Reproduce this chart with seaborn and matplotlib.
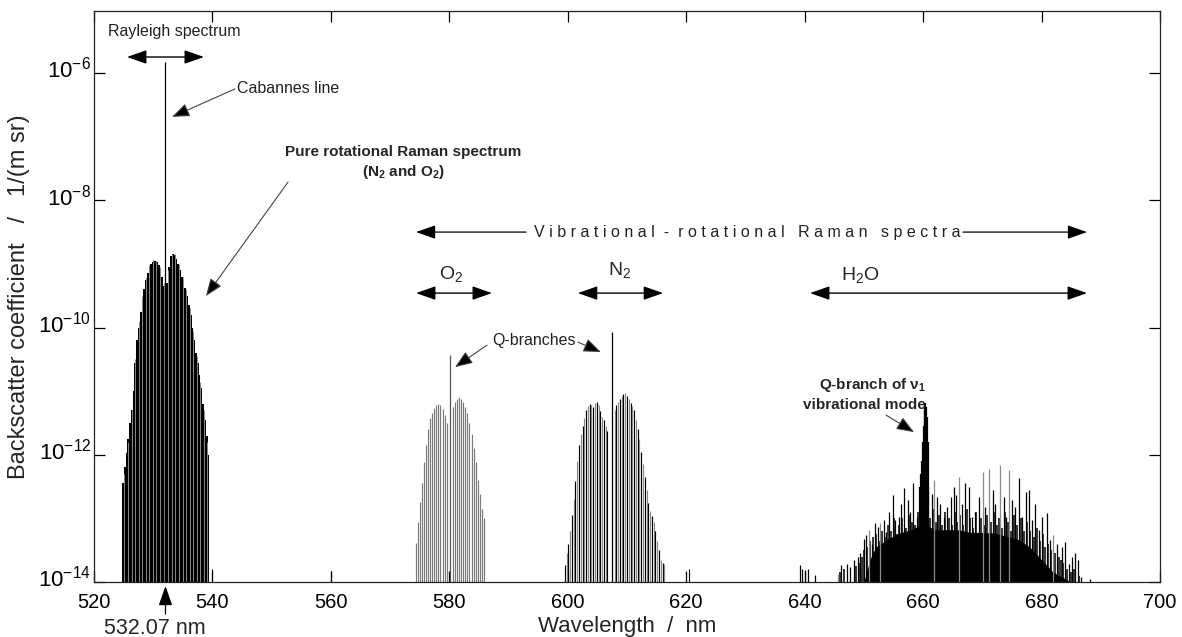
import numpy as np
import matplotlib
matplotlib.use("Agg")
import matplotlib.pyplot as plt
import matplotlib.transforms as mtransforms
import seaborn as sns

# ---------------- data (wavelength in nm, log10 of backscatter coefficient) -------------
rot_n2_wl = [524.9, 525.2, 525.5, 525.8, 526.1, 526.4, 526.7, 527.0, 527.3, 527.6, 527.9, 528.2,
             528.5, 528.8, 529.1, 529.4, 529.7, 530.0, 530.3, 530.6, 530.9, 531.2, 531.5, 531.8,
             532.4, 532.7, 533.0, 533.3, 533.6, 533.9, 534.2, 534.5, 534.8, 535.1, 535.4, 535.7,
             536.0, 536.3, 536.6, 536.9, 537.2, 537.5, 537.8, 538.1, 538.4, 538.7, 539.0, 539.3]
rot_n2_log = [-12.45, -12.2, -11.97, -11.75, -11.5, -11.3, -11.0, -10.55, -10.2, -10.0, -9.75, -9.55,
              -9.4, -9.25, -9.15, -9.05, -9.0, -8.97, -8.95, -8.97, -9.02, -9.1, -9.2, -9.35,
              -9.3, -9.05, -8.88, -8.84, -8.86, -8.92, -9.0, -9.1, -9.2, -9.28, -9.38, -9.5,
              -9.65, -9.8, -10.0, -10.2, -10.4, -10.55, -10.75, -10.95, -11.2, -11.45, -11.7, -12.0]
rot_o2_wl = [525.15, 525.75, 526.35, 526.95, 527.55, 528.15, 528.75, 529.35, 529.95, 530.55, 531.15,
             531.75, 532.55, 533.15, 533.75, 534.35, 534.95, 535.55, 536.15, 536.75, 537.35, 537.95,
             538.55, 539.15]
rot_o2_log = [-12.3, -11.8, -11.3, -10.5, -9.9, -9.5, -9.2, -9.02, -8.93, -8.95, -9.05,
              -9.3, -9.1, -8.85, -8.85, -9.0, -9.2, -9.4, -9.7, -10.05, -10.45, -10.85,
              -11.3, -11.8]
cabannes_wl, cabannes_log = 532.07, -5.83

o2_vib_wl = [574.3, 574.65, 575.0, 575.35, 575.7, 576.05, 576.4, 576.75, 577.1, 577.45, 577.8,
             578.15, 578.5, 578.85, 579.2, 579.55,
             580.6, 580.95, 581.3, 581.65, 582.0, 582.35, 582.7, 583.05, 583.4, 583.75, 584.1,
             584.45, 584.8, 585.15, 585.5, 585.85]
o2_vib_log = [-13.39, -13.05, -12.74, -12.45, -12.12, -11.85, -11.6, -11.42, -11.35, -11.27, -11.22,
              -11.2, -11.22, -11.28, -11.37, -11.5,
              -11.25, -11.17, -11.13, -11.1, -11.12, -11.17, -11.25, -11.35, -11.5, -11.68, -11.9,
              -12.12, -12.4, -12.62, -12.85, -13.0]
o2_q_wl, o2_q_log = 580.1, -10.43

n2_vib_wl = [599.5, 599.8, 600.1, 600.4, 600.7, 601.0, 601.3, 601.6, 601.9, 602.2, 602.5, 602.8,
             603.1, 603.4, 603.7, 604.0, 604.3, 604.6, 604.9, 605.2, 605.5, 605.8, 606.1, 606.4, 606.7,
             607.9, 608.2, 608.5, 608.8, 609.1, 609.4, 609.7, 610.0, 610.3, 610.6, 610.9, 611.2,
             611.5, 611.8, 612.1, 612.4, 612.7, 613.0, 613.3, 613.6, 613.9, 614.2, 614.5, 614.8,
             615.1, 615.4, 615.7, 616.0, 616.2]
n2_vib_log = [-13.74, -13.55, -13.4, -13.2, -12.95, -12.7, -12.42, -12.1, -11.85, -11.68, -11.55, -11.42,
              -11.3, -11.24, -11.2, -11.22, -11.25, -11.18, -11.17, -11.22, -11.32, -11.4, -11.45, -11.55, -11.62,
              -11.3, -11.22, -11.17, -11.12, -11.08, -11.05, -11.03, -11.07, -11.12, -11.18, -11.24, -11.3,
              -11.45, -11.6, -11.75, -11.95, -12.15, -12.35, -12.55, -12.76, -12.88, -12.96, -13.05, -13.2,
              -13.35, -13.5, -13.65, -13.7, -13.72]
n2_q_wl, n2_q_log = 607.4, -10.07

weak_wl = [539.9, 560.0, 620.4]
weak_log = [-13.8, -13.82, -13.8]

h2o_wl = [639.26, 639.54, 640.10, 640.50, 641.79,
          646.13, 647.14, 647.70, 648.27, 648.94, 649.39, 649.96, 650.41, 651.36, 651.81, 652.38,
          653.33, 653.78, 654.29, 654.91, 655.30, 655.87, 656.26, 656.82, 657.39, 657.84, 658.29,
          658.96, 659.53, 661.50, 662.34, 662.90, 663.47, 664.03, 664.71, 665.16, 665.55, 666.56,
          667.13, 667.69, 668.25, 668.82, 669.49, 670.50, 671.74, 672.19, 673.60, 674.05, 675.01,
          675.57, 676.25, 676.70, 677.37, 677.82, 678.39, 678.95, 679.51, 680.08, 680.92, 681.37,
          682.61, 683.45, 683.90, 684.58, 685.14, 685.70, 686.15, 686.72, 688.13]
h2o_log = [-13.74, -13.79, -13.81, -13.79, -13.89,
           -13.74, -13.71, -13.76, -13.66, -13.60, -13.55, -13.32, -13.26, -13.40, -13.08, -13.13,
           -13.03, -13.21, -12.90, -12.64, -13.03, -12.98, -12.77, -12.53, -12.71, -12.90, -12.45,
           -12.98, -12.50, -12.61, -12.66, -12.77, -12.98, -12.82, -12.66, -12.50, -12.64, -12.77,
           -12.45, -12.50, -12.98, -12.90, -12.66, -12.82, -12.56, -12.77, -12.66, -12.98, -12.71,
           -12.82, -12.37, -12.98, -12.58, -12.56, -13.03, -12.77, -13.19, -12.98, -12.92, -13.34,
           -13.40, -13.45, -13.37, -13.71, -13.60, -13.55, -13.66, -13.92, -13.95]
h2o_dense_wl = [645.9, 646.6, 648.6, 649.1, 649.7, 650.1, 650.6, 651.1, 651.6, 652.1, 652.6, 653.0,
                653.5, 654.0, 654.6, 655.1, 655.6, 656.0, 656.5, 657.1, 657.6, 658.1, 658.6, 659.2,
                661.2, 661.7, 662.1, 662.6, 663.2, 663.7, 664.3, 664.9, 665.4, 665.8, 666.3, 666.8,
                667.4, 667.9, 668.5, 669.0, 669.8, 670.3, 670.8, 671.4, 671.9, 672.4, 672.8, 673.3,
                673.8, 674.3, 674.8, 675.3, 675.9, 676.5, 677.0, 677.6, 678.1, 678.7, 679.2, 679.8,
                680.3, 680.6, 681.1, 681.6, 682.2, 682.9, 683.2, 683.7, 684.3, 684.9, 685.4, 686.4]
h2o_dense_log = [-13.85, -13.8, -13.75, -13.7, -13.6, -13.5, -13.45, -13.35, -13.3, -13.25, -13.35, -13.2,
                 -13.3, -13.1, -13.2, -13.0, -13.25, -13.1, -13.0, -13.15, -12.95, -13.05, -13.1, -12.9,
                 -13.0, -12.85, -13.05, -12.95, -13.1, -12.9, -13.0, -13.1, -12.9, -13.05, -12.95, -13.1,
                 -12.85, -13.0, -13.15, -12.9, -13.0, -13.1, -12.95, -13.05, -12.9, -13.1, -13.0, -13.15,
                 -12.9, -13.05, -13.2, -12.95, -13.1, -13.0, -13.2, -13.05, -13.2, -13.3, -13.15, -13.35,
                 -13.25, -13.45, -13.4, -13.5, -13.55, -13.6, -13.65, -13.7, -13.8, -13.85, -13.8, -13.9]
h2o_gray_wl = [645.56, 650.80, 652.77, 661.89, 666.11, 670.05, 671.18, 673.04, 674.56, 681.93]
h2o_gray_log = [-13.87, -13.19, -13.08, -12.40, -12.35, -12.27, -12.22, -12.16, -12.24, -13.26]
h2o_q_wl = [659.55, 659.7, 659.85, 660.0, 660.15, 660.3, 660.4, 660.5, 660.6, 660.75, 660.9]
h2o_q_log = [-12.5, -12.3, -12.1, -11.8, -11.55, -11.3, -11.19, -11.25, -11.4, -11.8, -12.5]
h2o_base_wl = [650, 651, 652, 654, 656, 658, 660, 662, 664, 666, 668, 670, 672, 674, 676, 678,
               680, 682, 684, 685]
h2o_base_log = [-14.0, -13.65, -13.45, -13.33, -13.23, -13.18, -13.08, -13.18, -13.18, -13.18, -13.22,
                -13.22, -13.23, -13.28, -13.33, -13.45, -13.65, -13.85, -13.95, -14.0]

x_ticks = [520, 540, 560, 580, 600, 620, 640, 660, 680, 700]
y_ticks = [1e-14, 1e-12, 1e-10, 1e-8, 1e-6]
y_tick_labels = ["10$^{-14}$", "10$^{-12}$", "10$^{-10}$", "10$^{-8}$", "10$^{-6}$"]

# ---------------- style -------------
sns.set_theme(style="ticks")
plt.rcParams['font.family'] = ['Liberation Sans', 'DejaVu Sans']
plt.rcParams['mathtext.fontset'] = 'custom'
plt.rcParams['mathtext.rm'] = 'Liberation Sans'
plt.rcParams['mathtext.it'] = 'Liberation Sans:italic'
plt.rcParams['mathtext.bf'] = 'Liberation Sans:bold'
plt.rcParams['mathtext.default'] = 'regular'

BASE = 1e-14
GRAY = '#8a8a8a'

fig = plt.figure(figsize=(11.82, 6.37), dpi=100)
ax = fig.add_axes([94 / 1182, 1 - 582 / 637, (1160 - 94) / 1182, (582 - 11) / 637])
ax.set_yscale('log')
ax.set_xlim(520, 700)
ax.set_ylim(BASE, 10 ** -5.025)


def stems(wl, lg, color, lw):
    ax.vlines(wl, BASE, np.power(10.0, np.asarray(lg, dtype=float)), colors=color, linewidth=lw)


# rotational band
stems(rot_n2_wl, rot_n2_log, 'black', 1.45)
stems(rot_o2_wl, rot_o2_log, GRAY, 0.7)
stems([cabannes_wl], [cabannes_log], 'black', 0.9)
# O2 vibrational
stems(o2_vib_wl, o2_vib_log, '#7a7a7a', 0.85)
stems([o2_q_wl], [o2_q_log], '#555555', 0.9)
# N2 vibrational
n2_cols = ['black' if i % 2 == 0 else GRAY for i in range(len(n2_vib_wl))]
ax.vlines(n2_vib_wl, BASE, np.power(10.0, np.asarray(n2_vib_log)), colors=n2_cols, linewidth=0.85)
stems([n2_q_wl], [n2_q_log], 'black', 0.9)
stems(weak_wl, weak_log, 'black', 0.8)
# H2O
ax.fill_between(h2o_base_wl, BASE, np.power(10.0, np.asarray(h2o_base_log, dtype=float)),
                color='black', linewidth=0)
stems(h2o_dense_wl, h2o_dense_log, 'black', 1.1)
stems(h2o_wl, h2o_log, 'black', 0.9)
stems(h2o_gray_wl, h2o_gray_log, GRAY, 0.9)
stems(h2o_q_wl, h2o_q_log, 'black', 1.6)

# axes formatting
ax.set_xticks(x_ticks)
ax.set_xticklabels([str(t) for t in x_ticks])
ax.set_yticks(y_ticks)
ax.set_yticklabels(y_tick_labels)
ax.minorticks_off()
ax.tick_params(axis='both', which='major', direction='in', length=8, width=0.9,
               top=True, right=True, colors='black')
ax.tick_params(axis='x', labelsize=14.5, pad=8)
ax.tick_params(axis='y', labelsize=16, pad=2)
shift_up = mtransforms.ScaledTranslation(0, 4 / 72, fig.dpi_scale_trans)
for lab in ax.get_yticklabels():
    lab.set_transform(lab.get_transform() + shift_up)
for s in ax.spines.values():
    s.set_linewidth(0.9)
    s.set_color('#222222')
ax.set_xlabel("Wavelength  /  nm", fontsize=16, labelpad=3)
ax.set_ylabel("Backscatter coefficient   /   1/(m sr)", fontsize=17, labelpad=6)


def L(v):
    return 10 ** v


def arrow(x0, y0, x1, y1, style='-|>', color='#444444', lw=0.8, hl=0.9, hw=0.35):
    ax.annotate('', xy=(x1, L(y1)), xytext=(x0, L(y0)),
                arrowprops=dict(arrowstyle=f'{style},head_length={hl},head_width={hw}',
                                color=color, lw=lw, shrinkA=0, shrinkB=0, fc='black', ec=color))


def darrow(x0, x1, y):
    ax.annotate('', xy=(x1, L(y)), xytext=(x0, L(y)),
                arrowprops=dict(arrowstyle='<|-|>,head_length=1.0,head_width=0.35',
                                color='black', lw=1.0, shrinkA=0, shrinkB=0))


# annotations
ax.text(533.5, L(-5.355), "Rayleigh spectrum", ha='center', va='center', fontsize=11.5, color='#222222')
darrow(525.57, 538.57, -5.748)
ax.text(544.15, L(-6.236), "Cabannes line", ha='left', va='center', fontsize=11.5, color='#222222')
arrow(543.8, -6.25, 533.17, -6.69)
ax.text(572.2, L(-7.242), "Pure rotational Raman spectrum", ha='center', va='center',
        fontsize=11, fontweight='bold')
ax.text(572.2, L(-7.56), "(N$_2$ and O$_2$)", ha='center', va='center', fontsize=11, fontweight='bold')
arrow(552.76, -7.714, 538.9, -9.506)

ax.text(630.27, L(-8.5), "V i b r a t i o n a l  -  r o t a t i o n a l   R a m a n   s p e c t r a",
        ha='center', va='center', fontsize=11.5, color='#222222')
arrow(592.95, -8.5, 574.37, -8.5, color='black', lw=0.9, hl=1.0, hw=0.35)
arrow(666.74, -8.5, 687.68, -8.5, color='black', lw=0.9, hl=1.0, hw=0.35)

ax.text(580.28, L(-9.16), "O$_2$", ha='center', va='center', fontsize=14)
darrow(574.37, 587.2, -9.459)
ax.text(608.82, L(-9.1), "N$_2$", ha='center', va='center', fontsize=14)
darrow(601.7, 616.1, -9.459)
ax.text(649.35, L(-9.176), "H$_2$O", ha='center', va='center', fontsize=14)
darrow(640.9, 687.68, -9.459)

ax.text(594.3, L(-10.2), "Q-branches", ha='center', va='center', fontsize=11.5, color='#222222')
arrow(586.36, -10.277, 580.96, -10.623)
arrow(601.73, -10.23, 605.61, -10.386)

ax.text(651.5, L(-10.91), "Q-branch of \u03bd$_1$", ha='center', va='center', fontsize=11,
        fontweight='bold')
ax.text(650.0, L(-11.22), "vibrational mode", ha='center', va='center', fontsize=11, fontweight='bold')
arrow(653.74, -11.377, 658.47, -11.645)

ax.annotate('', xy=(532.07, 1 - 586 / 637), xytext=(532.07, 1 - 614 / 637),
            xycoords=('data', 'figure fraction'), textcoords=('data', 'figure fraction'),
            arrowprops=dict(arrowstyle='-|>,head_length=1.0,head_width=0.35', color='black', lw=0.9,
                            shrinkA=0, shrinkB=0))
ax.annotate("532.07 nm", xy=(530.3, 1 - 628 / 637), xycoords=('data', 'figure fraction'),
            ha='center', va='center', fontsize=15.5, annotation_clip=False)

fig.savefig("out.png", dpi=100)
